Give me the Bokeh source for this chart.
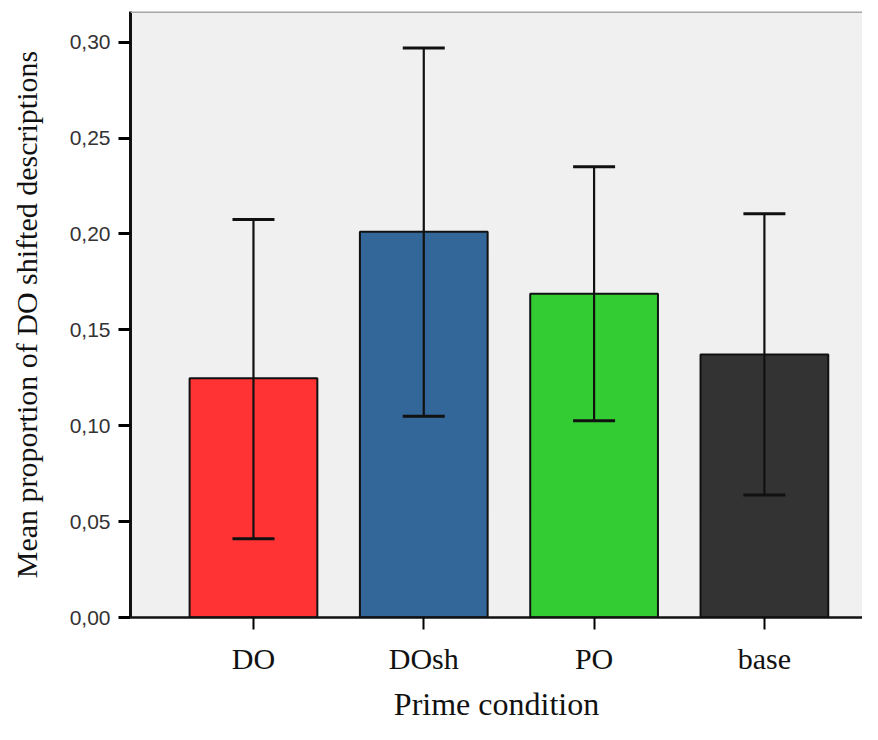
from bokeh.plotting import figure
from bokeh.models import ColumnDataSource, Whisker, TeeHead, Span, FixedTicker, Range1d
from bokeh.embed import file_html
from bokeh.resources import INLINE

categories = ["DO", "DOsh", "PO", "base"]
means = [0.1248, 0.2011, 0.1688, 0.1371]
ci_lower = [0.0410, 0.1050, 0.1026, 0.0639]
ci_upper = [0.2075, 0.2970, 0.2350, 0.2106]
colors = ["#FF3333", "#336699", "#33CC33", "#333333"]
y_ticks = [0.0, 0.05, 0.10, 0.15, 0.20, 0.25, 0.30]
y_tick_labels = ["0,00", "0,05", "0,10", "0,15", "0,20", "0,25", "0,30"]

xs = list(range(len(categories)))
src = ColumnDataSource(dict(x=xs, top=means, lower=ci_lower, upper=ci_upper, color=colors))

p = figure(width=862, height=724, output_backend="svg", toolbar_location=None,
           x_range=Range1d(-0.722, 3.576), y_range=Range1d(0, 0.316),
           min_border_left=130, min_border_top=11, min_border_right=0, min_border_bottom=0)
p.background_fill_color = "#F0F0F0"
p.border_fill_color = "white"
p.outline_line_color = None
p.grid.visible = False

p.vbar(x="x", top="top", width=0.75, bottom=0, source=src, fill_color="color",
       line_color="#111111", line_width=2)

w = Whisker(source=src, base="x", lower="lower", upper="upper",
            line_color="#111111", line_width=2.2,
            lower_head=TeeHead(size=42, line_width=3, line_color="#111111"),
            upper_head=TeeHead(size=42, line_width=3, line_color="#111111"))
w.level = "overlay"
p.add_layout(w)

top_line = Span(location=0.316, dimension="width", line_color="#A8A8A8", line_width=3)
p.add_layout(top_line)

# x axis
p.xaxis.ticker = FixedTicker(ticks=xs)
p.xaxis.major_label_overrides = {i: c for i, c in zip(xs, categories)}
p.xaxis.minor_tick_line_color = None
p.xaxis.axis_line_width = 2.5
p.xaxis.axis_line_color = "#111111"
p.xaxis.major_tick_in = 0
p.xaxis.major_tick_out = 12
p.xaxis.major_tick_line_width = 2
p.xaxis.major_label_text_font = "Liberation Serif"
p.xaxis.major_label_text_font_size = "30px"
p.xaxis.major_label_text_color = "#111111"
p.xaxis.major_label_standoff = 12
p.xaxis.axis_label = "Prime condition"
p.xaxis.axis_label_text_font = "Liberation Serif"
p.xaxis.axis_label_text_font_size = "32px"
p.xaxis.axis_label_text_font_style = "normal"
p.xaxis.axis_label_text_color = "#111111"
p.xaxis.axis_label_standoff = 8

# y axis
p.yaxis.ticker = FixedTicker(ticks=y_ticks)
p.yaxis.major_label_overrides = {t: l for t, l in zip(y_ticks, y_tick_labels)}
p.yaxis.minor_tick_line_color = None
p.yaxis.axis_line_width = 3
p.yaxis.axis_line_color = "#111111"
p.yaxis.major_tick_in = 0
p.yaxis.major_tick_out = 12
p.yaxis.major_tick_line_width = 3
p.yaxis.major_label_text_font = "Liberation Sans"
p.yaxis.major_label_text_font_size = "21px"
p.yaxis.major_label_text_color = "#333333"
p.yaxis.major_label_standoff = 8
p.yaxis.axis_label = "Mean proportion of DO shifted descriptions"
p.yaxis.axis_label_text_font = "Liberation Serif"
p.yaxis.axis_label_text_font_size = "30px"
p.yaxis.axis_label_text_font_style = "normal"
p.yaxis.axis_label_text_color = "#111111"
p.yaxis.axis_label_standoff = 24

open("out.html", "w").write(file_html(p, INLINE))
